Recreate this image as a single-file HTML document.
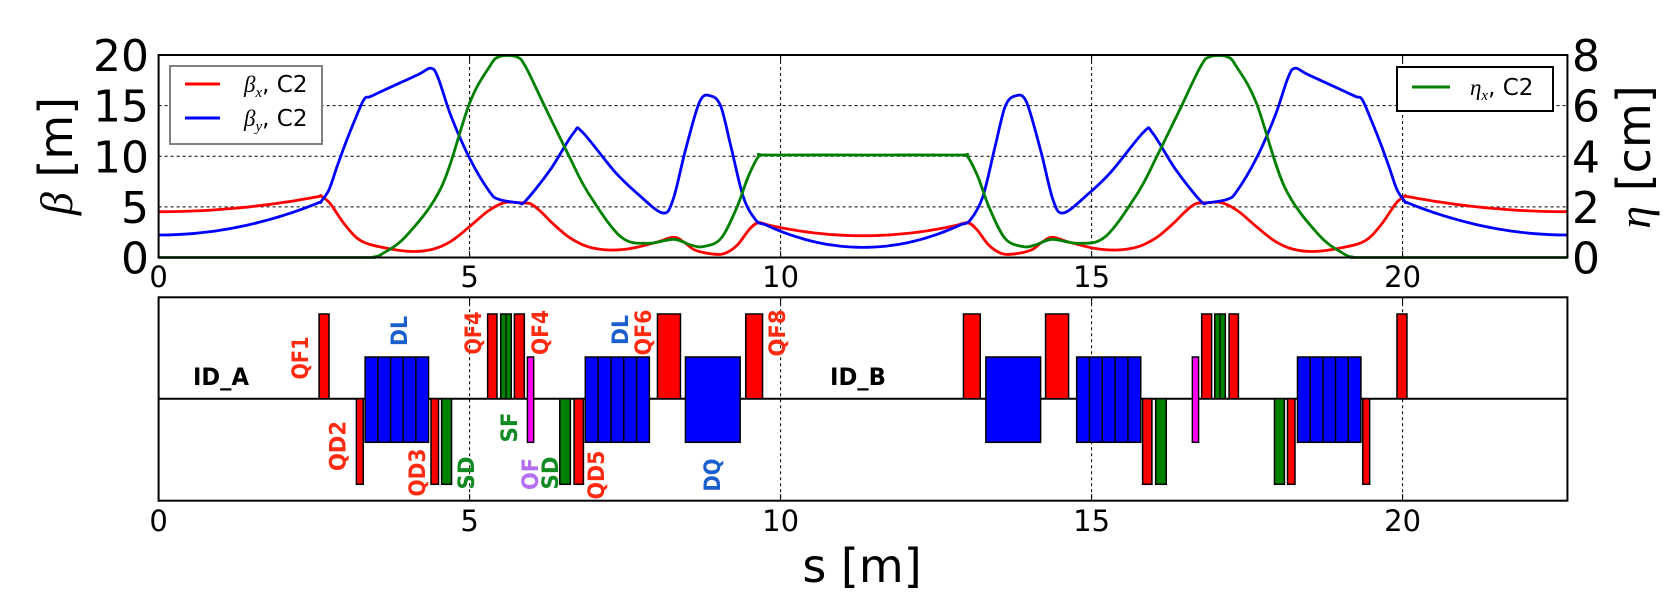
<!DOCTYPE html>
<html><head><meta charset="utf-8"><style>
html,body{margin:0;padding:0;background:#fff;}
svg{display:block;}
text{font-family:"DejaVu Sans","Liberation Sans",sans-serif;}
</style></head><body>
<svg id="s" width="1680" height="610" viewBox="0 0 1680 610" xmlns="http://www.w3.org/2000/svg"></svg>
<script>
const S=document.getElementById('s');
const X0=158.6,KX=62.2,L=22.65,C=L/2;
const X=s=>X0+KX*s;
const YB=b=>257.5-10.125*b, YE=e=>257.5-25.31*e;
let h='';
function mk(pts){const out=[];pts.forEach(p=>out.push(p));const n=out.length;
 for(let i=n-2;i>=0;i--){out.push([L-out[i][0],out[i][1]]);} return out;}
let bx=[],by=[];
for(let s=0;s<2.61;s+=0.2){bx.push([s,4.52+1.55*Math.pow(s/2.61,2)]);by.push([s,2.22+3.28*Math.pow(s/2.61,2)]);}
bx=bx.concat([[2.61,6.07],[2.75,5.4],[3.0,3.2],[3.25,1.66],[3.6,1.0],[4.05,0.6],[4.4,0.8],[4.7,1.6],[5.0,3.05],[5.3,4.6],[5.56,5.42],[5.8,5.4],[5.98,5.3],[6.15,4.5],[6.33,3.4],[6.6,2.0],[6.9,1.07],[7.24,0.74],[7.6,0.9],[8.0,1.5],[8.28,2.0],[8.45,1.5],[8.62,0.74],[8.9,0.35],[9.1,0.4],[9.3,1.2],[9.5,2.8],[9.64,3.44]]);
for(let s=9.8;s<C;s+=0.15)bx.push([s,2.15+1.29*Math.pow((C-s)/1.685,2)]);
bx.push([C,2.15]);
by=by.concat([[2.61,5.5],[2.74,6.7],[2.87,9.0],[3.0,11.2],[3.15,13.5],[3.3,15.6],[3.4,15.88],[3.6,16.45],[3.9,17.3],[4.2,18.15],[4.38,18.7],[4.49,17.8],[4.7,14.0],[5.0,9.8],[5.32,6.5],[5.47,5.75],[5.78,5.42],[5.9,5.6],[6.3,8.7],[6.67,12.3],[6.81,12.4],[7.33,8.5],[7.7,6.3],[8.1,4.4],[8.27,5.7],[8.47,10.6],[8.7,15.4],[8.88,15.95],[9.04,14.9],[9.2,11],[9.4,6],[9.6,3.7]]);
for(let s=9.75;s<C;s+=0.15)by.push([s,1.0+2.7*Math.pow((C-s)/1.725,2)]);
by.push([C,1.0]);
let et=[[0,0],[1.5,0],[3.3,0],[3.45,0.02],[3.6,0.15],[4.0,0.9],[4.55,2.8],[5.0,6.1],[5.32,7.54],[5.47,7.93],[5.75,7.93],[5.9,7.54],[6.21,5.96],[6.6,4.0],[6.91,2.54],[7.43,0.82],[7.87,0.56],[8.28,0.72],[8.55,0.5],[8.75,0.43],[9.04,0.75],[9.3,2.0],[9.48,3.2],[9.65,4.0],[9.8,4.05],[C,4.05]];
function path(pts,fy){const P=pts.map(p=>[X(p[0]),fy(p[1])]);let d='M'+P[0][0].toFixed(1)+','+P[0][1].toFixed(1);
 for(let i=0;i<P.length-1;i++){const p0=P[i-1]||P[i],p1=P[i],p2=P[i+1],p3=P[i+2]||P[i+1];
  const c1=[p1[0]+(p2[0]-p0[0])/6,p1[1]+(p2[1]-p0[1])/6],c2=[p2[0]-(p3[0]-p1[0])/6,p2[1]-(p3[1]-p1[1])/6];
  d+=' C'+c1.map(v=>v.toFixed(1)).join(',')+' '+c2.map(v=>v.toFixed(1)).join(',')+' '+p2.map(v=>v.toFixed(1)).join(',');}
 return d;}
const grid='stroke="#000" stroke-width="1" stroke-dasharray="3,3"';
[5,10,15,20].forEach(s=>{h+=`<line x1="${X(s)}" y1="55" x2="${X(s)}" y2="257.5" ${grid}/>`;h+=`<line x1="${X(s)}" y1="297.3" x2="${X(s)}" y2="500.7" ${grid}/>`;});
[5,10,15].forEach(b=>{h+=`<line x1="${X0}" y1="${YB(b)}" x2="${X(L)}" y2="${YB(b)}" ${grid}/>`;});
h+=`<defs><clipPath id="cp"><rect x="${X0}" y="52" width="${KX*L}" height="208"/></clipPath></defs>`;
h+=`<g clip-path="url(#cp)" fill="none" stroke-width="2.8" stroke-linejoin="round">`;
h+=`<path d="${path(mk(bx),YB)}" stroke="#ff0000"/>`;
h+=`<path d="${path(mk(by),YB)}" stroke="#0000ff"/>`;
h+=`<path d="${path(mk(et),YE)}" stroke="#008000"/>`;
h+=`</g>`;
h+=`<rect x="${X0}" y="55" width="${KX*L}" height="202.5" fill="none" stroke="#000" stroke-width="2"/>`;
[0,5,10,15,20].forEach(s=>{h+=`<line x1="${X(s)}" y1="257.5" x2="${X(s)}" y2="251" stroke="#000"/><line x1="${X(s)}" y1="55" x2="${X(s)}" y2="61" stroke="#000"/>`;
 h+=`<text x="${X(s)}" y="287" font-size="29" text-anchor="middle">${s}</text>`;
 h+=`<text x="${X(s)}" y="531" font-size="29" text-anchor="middle">${s}</text>`;});
[0,5,10,15,20].forEach(b=>{h+=`<text x="149" y="${YB(b)+16}" font-size="44" text-anchor="end">${b}</text>`;});
[0,2,4,6,8].forEach(e=>{h+=`<text x="1572" y="${YE(e)+16}" font-size="44">${e}</text>`;});
h+=`<text transform="translate(72,156) rotate(-90)" font-size="46" text-anchor="middle"><tspan font-style="italic" font-family="Liberation Serif, serif">β</tspan> [m]</text>`;
h+=`<text transform="translate(1650,157) rotate(-90)" font-size="46" text-anchor="middle"><tspan font-style="italic" font-family="Liberation Serif, serif">η</tspan> [cm]</text>`;
h+=`<text x="862" y="582" font-size="46" text-anchor="middle">s [m]</text>`;
h+=`<rect x="170" y="66" width="152" height="78" fill="#fff" stroke="#808080" stroke-width="2"/>`;
h+=`<line x1="185" y1="84" x2="220" y2="84" stroke="#ff0000" stroke-width="3"/><line x1="185" y1="118" x2="220" y2="118" stroke="#0000ff" stroke-width="3"/>`;
h+=`<text x="244" y="92" font-size="23"><tspan font-style="italic" font-family="Liberation Serif, serif">β</tspan><tspan font-size="15" font-style="italic" font-family="Liberation Serif, serif" dy="5">x</tspan><tspan dy="-5">, C2</tspan></text>`;
h+=`<text x="244" y="126" font-size="23"><tspan font-style="italic" font-family="Liberation Serif, serif">β</tspan><tspan font-size="15" font-style="italic" font-family="Liberation Serif, serif" dy="5">y</tspan><tspan dy="-5">, C2</tspan></text>`;
h+=`<rect x="1397" y="67" width="156" height="44" fill="#fff" stroke="#000" stroke-width="2"/>`;
h+=`<line x1="1412" y1="87" x2="1450" y2="87" stroke="#008000" stroke-width="3"/>`;
h+=`<text x="1470" y="95" font-size="23"><tspan font-style="italic" font-family="Liberation Serif, serif">η</tspan><tspan font-size="15" font-style="italic" font-family="Liberation Serif, serif" dy="5">x</tspan><tspan dy="-5">, C2</tspan></text>`;
const els=[[2.58,2.74,'QF'],[3.18,3.29,'QD'],[3.32,4.34,'DL'],[4.38,4.50,'QD'],[4.55,4.71,'SD'],[5.29,5.44,'QF'],[5.50,5.67,'SF'],[5.72,5.88,'QF'],[5.93,6.03,'OF'],[6.45,6.62,'SD'],[6.68,6.83,'QD'],[6.86,7.89,'DL'],[8.02,8.39,'QF'],[8.47,9.35,'DQ'],[9.44,9.71,'QF']];
const all=els.concat(els.map(e=>[L-e[1],L-e[0],e[2]]));
h+=`<line x1="${X0}" y1="398.7" x2="${X(L)}" y2="398.7" stroke="#000" stroke-width="2"/>`;
all.forEach(e=>{const x1=X(e[0]),w=X(e[1])-x1;let y,hh,f;
 if(e[2]=='QF'){y=314;hh=84.7;f='#ff0000';}
 else if(e[2]=='QD'){y=398.7;hh=85.6;f='#ff0000';}
 else if(e[2]=='SF'){y=314;hh=84.7;f='#008000';}
 else if(e[2]=='SD'){y=398.7;hh=85.6;f='#008000';}
 else if(e[2]=='OF'){y=357;hh=85.3;f='#ff00ff';}
 else {y=357;hh=85.3;f='#0000ff';}
 h+=`<rect x="${x1}" y="${y}" width="${w}" height="${hh}" fill="${f}" stroke="#000" stroke-width="1.5"/>`;
 if(e[2]=='DL'){for(let k=1;k<5;k++){const xx=x1+w*k/5;h+=`<line x1="${xx}" y1="357" x2="${xx}" y2="442.3" stroke="#000" stroke-width="1.5"/>`;}}
 if(e[2]=='SF'){h+=`<line x1="${x1+w/2}" y1="314" x2="${x1+w/2}" y2="398.7" stroke="#000" stroke-width="1.2"/>`;}
});
h+=`<rect x="${X0}" y="297.3" width="${KX*L}" height="203.4" fill="none" stroke="#000" stroke-width="2"/>`;
[0,5,10,15,20].forEach(s=>{h+=`<line x1="${X(s)}" y1="500.7" x2="${X(s)}" y2="494" stroke="#000"/><line x1="${X(s)}" y1="297.3" x2="${X(s)}" y2="304" stroke="#000"/>`;});
h+=`<text x="221" y="385" font-size="24" font-weight="bold" text-anchor="middle" textLength="56" lengthAdjust="spacingAndGlyphs">ID_A</text>`;
h+=`<text x="858" y="385" font-size="24" font-weight="bold" text-anchor="middle" textLength="56" lengthAdjust="spacingAndGlyphs">ID_B</text>`;
const R='#ff2a10',B='#1a5fcc',G='#118a22',V='#b36ff0';
const labs=[['QF1',300,358,43,R],['DL',399,331,30,B],['QF4',473,333,43,R],['QF4',540,332.5,45,R],['DL',620,330,30,B],['QF6',643,332.5,46,R],['QF8',777,333,47,R],
['QD2',337.5,446,50,R],['QD3',417,472.5,48,R],['SD',466,473,33,G],['SF',509,427.5,30,G],['OF',530,474,32,V],['SD',550,473,33,G],['QD5',596,475,49,R],['DQ',712,475,33,B]];
labs.forEach(l=>{h+=`<text transform="translate(${l[1]+8},${l[2]}) rotate(-90)" font-size="22" font-weight="bold" fill="${l[4]}" text-anchor="middle" textLength="${l[3]}" lengthAdjust="spacingAndGlyphs">${l[0]}</text>`;});
S.innerHTML=h;
</script>
</body></html>
